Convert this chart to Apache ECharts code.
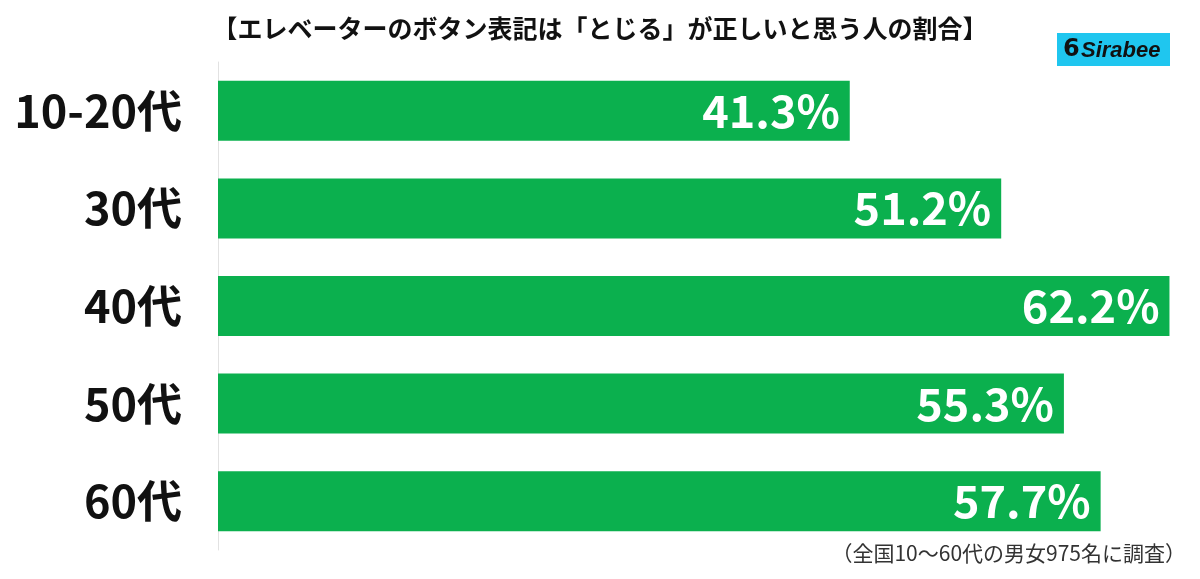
<!DOCTYPE html>
<html>
<head>
<meta charset="utf-8">
<script src="https://cdn.jsdelivr.net/npm/echarts@6/dist/echarts.min.js"></script>
<style>
  html, body { margin: 0; padding: 0; background: #fff; }
  #chart { width: 1200px; height: 579px; }
</style>
</head>
<body>
<div id="chart"></div>
<script>
var categories = ['10-20代', '30代', '40代', '50代', '60代']
var values = [41.3, 51.2, 62.2, 55.3, 57.7]
var titleText = '【エレベーターのボタン表記は「とじる」が正しいと思う人の割合】'
var noteText = '（全国10〜60代の男女975名に調査）'

var myChart = echarts.init(document.getElementById('chart'))
var font = '"Noto Sans CJK JP", "Noto Sans", sans-serif'

var option = {
  animation: false,
  title: {
    text: titleText,
    left: 'center',
    top: 11,
    textStyle: { fontFamily: font, fontSize: 25, fontWeight: 'bold', color: '#111' }
  },
  grid: { left: 218, right: 3, top: 62, bottom: 29 },
  xAxis: {
    type: 'value',
    min: 0,
    max: 64,
    show: false
  },
  yAxis: {
    type: 'category',
    inverse: true,
    data: categories,
    axisTick: { show: false },
    axisLine: { lineStyle: { color: '#e2e2e2', width: 1 } },
    axisLabel: {
      margin: 36,
      fontFamily: font,
      fontSize: 45,
      fontWeight: 'bold',
      color: '#111'
    }
  },
  series: [
    {
      type: 'bar',
      data: values,
      barWidth: 60,
      itemStyle: { color: '#0bb04e' },
      label: {
        show: true,
        position: 'insideRight',
        distance: 10,
        formatter: '{c}%',
        fontFamily: font,
        fontSize: 45,
        fontWeight: 'bold',
        color: '#fff'
      }
    }
  ],
  graphic: [
    {
      type: 'rect',
      shape: { x: 1057, y: 33, width: 113, height: 33 },
      style: { fill: '#1fc6ef' }
    },
    {
      type: 'text',
      style: {
        x: 1063, y: 50, text: '6',
        font: 'bold 24px "DejaVu Sans"',
        fill: '#111', verticalAlign: 'middle'
      }
    },
    {
      type: 'text',
      style: {
        x: 1081, y: 51, text: 'Sirabee',
        font: 'italic bold 22px "Liberation Sans"',
        fill: '#111', verticalAlign: 'middle'
      }
    },
    {
      type: 'text',
      style: {
        x: 1186, y: 553, text: noteText,
        font: '21px ' + font,
        fill: '#333', align: 'right', verticalAlign: 'middle'
      }
    }
  ]
}

option && myChart.setOption(option)
</script>
</body>
</html>
